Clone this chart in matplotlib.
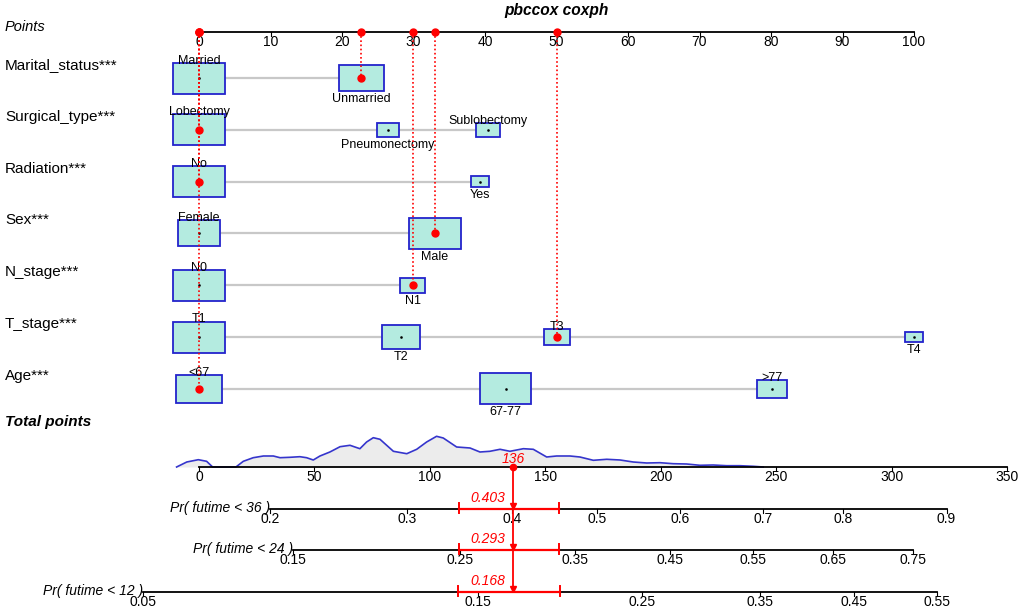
import matplotlib
matplotlib.use("Agg")
import matplotlib.pyplot as plt
from matplotlib.patches import Rectangle

plt.rcParams["font.family"] = ["Liberation Sans", "DejaVu Sans"]

# ---- values ----
variables = ["Marital_status***", "Surgical_type***", "Radiation***", "Sex***",
             "N_stage***", "T_stage***", "Age***"]
level_names = [["Married", "Unmarried"],
               ["Lobectomy", "Pneumonectomy", "Sublobectomy"],
               ["No", "Yes"],
               ["Female", "Male"],
               ["N0", "N1"],
               ["T1", "T2", "T3", "T4"],
               ["<67", "67-77", ">77"]]
level_points = [[0, 22.7], [0, 26.4, 40.4], [0, 39.3], [0, 33.0], [0, 29.9],
                [0, 28.3, 50.1, 100], [0, 42.9, 80.1]]
level_freq = [[0.57, 0.43], [0.71, 0.135, 0.155], [0.9, 0.1], [0.41, 0.59],
              [0.81, 0.19], [0.52, 0.29, 0.13, 0.06], [0.38, 0.46, 0.16]]
patient_level = [1, 0, 0, 1, 1, 2, 0]

points_ticks = list(range(0, 101, 10))
total_ticks = list(range(0, 351, 50))
total_score = 136

dens_tp = [-9.7, -5.3, -0.3, 3.3, 5.9, 16.0, 19.2, 23.5, 27.9, 32.2, 35.1, 39.4, 43.7,
           46.6, 49.5, 52.4, 56.7, 61.1, 65.4, 69.7, 72.6, 75.5, 78.4, 81.3, 84.2, 90.0,
           94.3, 98.6, 102.9, 105.8, 111.6, 117.4, 121.7, 126.0, 130.4, 134.7, 140.5,
           144.8, 150.6, 154.9, 160.7, 165.0, 170.8, 176.6, 182.4, 188.1, 193.9, 199.7,
           205.4, 211.2, 217.0, 222.7, 228.5, 234.3, 240.1, 244.4]
dens_h = [0, 5, 7.3, 5.7, 0, 0, 5.7, 9.3, 11, 11, 9.3, 9.7, 10.3, 9.3, 7, 11, 15, 20.3,
          21.7, 18.3, 25, 29.3, 27.7, 21.7, 15.7, 13.3, 17.7, 25, 30.7, 29, 20, 19, 15,
          15.7, 17.7, 15.7, 18.3, 17.7, 10, 11, 11, 10, 6.7, 7.7, 7, 5, 4, 4.3, 3.3, 3,
          1.7, 2, 1.3, 1.3, 0.7, 0]

pr_names = ["Pr( futime < 36 )", "Pr( futime < 24 )", "Pr( futime < 12 )"]
pr36_labels = ["0.2", "0.3", "0.4", "0.5", "0.6", "0.7", "0.8", "0.9"]
pr36_tp = [30.7, 90.1, 135.5, 172.3, 208.3, 244.2, 278.9, 323.8]
pr24_labels = ["0.15", "0.25", "0.35", "0.45", "0.55", "0.65", "0.75"]
pr24_tp = [40.7, 113.0, 162.8, 204.0, 239.9, 274.6, 309.2]
pr12_labels = ["0.05", "0.15", "0.25", "0.35", "0.45", "0.55"]
pr12_tp = [-24.3, 120.8, 191.9, 243.0, 283.7, 319.6]
pr_values = ["0.403", "0.293", "0.168"]
ci_lo_tp = [112.6, 112.6, 112.2]
ci_hi_tp = [155.9, 155.9, 156.3]

# ---- layout (pixels) ----
W, H = 1026, 610
x0 = 199
pt_scale = 7.15      # px per point
tp_scale = 2.3086    # px per total point
y_points = 32
row_y = [78 + 51.8 * i for i in range(len(variables))]
y_total = 467
pr_y = [509, 550, 592]

box_col = "#b4ebe0"
edge_col = "#2323cc"
red = "#ff0000"

fig = plt.figure(figsize=(W / 100, H / 100), dpi=100)
ax = fig.add_axes([0, 0, 1, 1])
ax.set_xlim(-x0 / pt_scale, (W - x0) / pt_scale)
ax.set_ylim(H, 0)
ax.axis("off")
bx = fig.add_axes([0, 0, 1, 1])
bx.set_xlim(-x0 / tp_scale, (W - x0) / tp_scale)
bx.set_ylim(H, 0)
bx.axis("off")
bx.patch.set_alpha(0)

lab_tr = ax.get_yaxis_transform()
left = 5 / W

# title
ax.text(50, 11, "pbccox coxph", ha="center", va="center", fontsize=11.2,
        fontweight="bold", fontstyle="italic")

# points axis
ax.text(left, 27, "Points", transform=lab_tr, ha="left", va="center",
        fontsize=10.5, fontstyle="italic")
ax.plot([points_ticks[0], points_ticks[-1]], [y_points, y_points], color="black", lw=1.3)
for t in points_ticks:
    ax.plot([t, t], [y_points, y_points + 4], color="black", lw=0.8)
    ax.text(t, y_points + 3, str(t), ha="center", va="top", fontsize=10)

# variable rows
for i, var in enumerate(variables):
    y = row_y[i]
    pts = level_points[i]
    fr = level_freq[i]
    ax.text(left, y - 13, var, transform=lab_tr, ha="left", va="center", fontsize=11)
    ax.plot([min(pts), max(pts)], [y, y], color="#c8c8c8", lw=1.6, zorder=1)
    fmax = max(fr)
    for j, (name, p, f) in enumerate(zip(level_names[i], pts, fr)):
        h = 31 * (f / fmax) ** 0.5
        w = 1.65 * h / pt_scale
        ax.add_patch(Rectangle((p - w / 2, y - h / 2), w, h, facecolor=box_col,
                               edgecolor=edge_col, lw=1.3, zorder=2))
        ax.plot(p, y, marker="s", markersize=0.8, color="black", zorder=3)
        if j % 2 == 0:
            ax.text(p, y - h / 2 + 1, name, ha="center", va="baseline", fontsize=9, zorder=4)
        else:
            ax.text(p, y + h / 2 + 2, name, ha="center", va="top", fontsize=9, zorder=4)

# patient selection on the points scale
for i, sel in enumerate(patient_level):
    p = level_points[i][sel]
    ax.plot([p, p], [y_points, row_y[i]], color=red, lw=1.2,
            linestyle=(0, (1, 1.5)), zorder=5)
    ax.plot(p, row_y[i], "o", color=red, markersize=5, zorder=6)
    ax.plot(p, y_points, "o", color=red, markersize=5, zorder=6)

# total points
bx.text(left, 422, "Total points", transform=bx.get_yaxis_transform(), ha="left",
        va="center", fontsize=11, fontweight="bold", fontstyle="italic")
dens_y = [y_total - v for v in dens_h]
bx.fill_between(dens_tp, dens_y, y_total, color="#ececec", lw=0, zorder=1)
bx.plot(dens_tp, dens_y, color="#3535cc", lw=1.2, zorder=2)
bx.plot([total_ticks[0], total_ticks[-1]], [y_total, y_total], color="black", lw=1.3, zorder=3)
for t in total_ticks:
    bx.plot([t, t], [y_total, y_total + 4], color="black", lw=0.8)
    bx.text(t, y_total + 3, str(t), ha="center", va="top", fontsize=10)

# probability axes
pr_labels = [pr36_labels, pr24_labels, pr12_labels]
pr_tp = [pr36_tp, pr24_tp, pr12_tp]
for k in range(3):
    y = pr_y[k]
    tps = pr_tp[k]
    bx.plot([tps[0], tps[-1]], [y, y], color="black", lw=1.3, zorder=3)
    for lab, t in zip(pr_labels[k], tps):
        bx.plot([t, t], [y, y + 4], color="black", lw=0.8)
        bx.text(t, y + 3, lab, ha="center", va="top", fontsize=10)
    bx.text(tps[0], y - 1, pr_names[k], ha="right", va="center", fontsize=10,
            fontstyle="italic")
    # red bracket
    bx.plot([ci_lo_tp[k], ci_hi_tp[k]], [y, y], color=red, lw=1.6, zorder=4)
    for c in (ci_lo_tp[k], ci_hi_tp[k]):
        bx.plot([c, c], [y - 6, y + 4], color=red, lw=1.4, zorder=4)
    bx.plot(total_score, y - 3, marker="v", color=red, markersize=5, zorder=5)
    bx.text(total_score - 3.5, y - 11, pr_values[k], ha="right", va="center",
            fontsize=10, fontstyle="italic", color=red)

bx.plot([total_score, total_score], [y_total, pr_y[-1]], color=red, lw=1.3, zorder=4)
bx.plot(total_score, y_total, "o", color=red, markersize=4.5, zorder=5)
bx.text(total_score, 459, str(total_score), ha="center", va="center", fontsize=10,
        fontstyle="italic", color=red, zorder=5)

fig.savefig("out.png", dpi=100)
